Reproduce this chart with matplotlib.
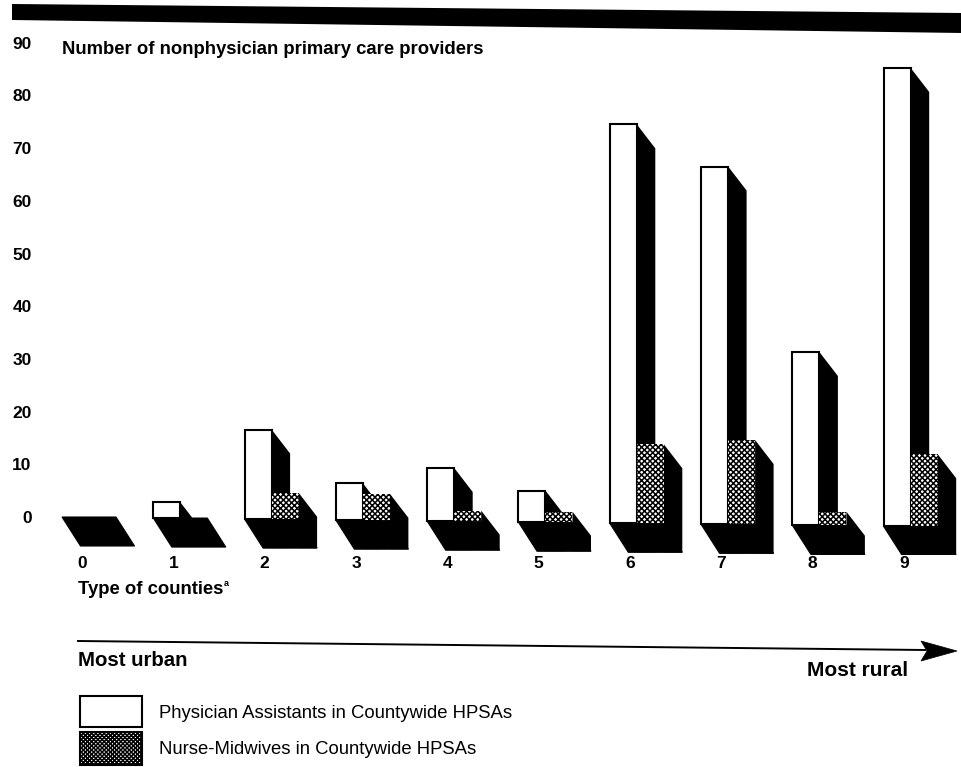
import numpy as np
import matplotlib
matplotlib.use("Agg")
import matplotlib.pyplot as plt
from matplotlib.patches import Polygon, Rectangle
from matplotlib.transforms import Affine2D

plt.rcParams['font.family'] = ['Liberation Sans', 'DejaVu Sans']
plt.rcParams['hatch.linewidth'] = 1.1

# Data
county_types = [0, 1, 2, 3, 4, 5, 6, 7, 8, 9]
physician_assistants = [0, 3, 17, 7, 10.1, 6, 75.7, 67.9, 32.9, 87]
nurse_midwives = [0, 0, 5, 5, 2, 2, 15, 16, 2.6, 13.7]
y_ticks = [0, 10, 20, 30, 40, 50, 60, 70, 80, 90]

W, H = 962, 767
px_per_x = 91.3
px_per_y = 5.27

fig = plt.figure(figsize=(W/100, H/100), dpi=100)
ax = fig.add_axes([40/W, 1-555/H, (W-40)/W, 555/H])
ax.set_xlim((40-62)/px_per_x, (W-62)/px_per_x)
ax.set_ylim((517-555)/px_per_y, 517/px_per_y)
for s in ax.spines.values():
    s.set_visible(False)
ax.patch.set_alpha(0)

# Bar sizes in axis units
bar_w = 27/px_per_x
dx = 18.5/px_per_x
dy_top = 24/px_per_y
dy_floor = 29/px_per_y
drift = 1.05/px_per_y  # page is scanned slightly crooked

for i, (pa, nm) in enumerate(zip(physician_assistants, nurse_midwives)):
    x0 = county_types[i]
    b = -drift*i
    x1, x2 = x0+bar_w, x0+2*bar_w
    floor = b-dy_floor

    ax.add_patch(Polygon([(x0, b), (x2, b), (x2+dx, floor), (x0+dx, floor)], fc='black', ec='black', lw=0.8, zorder=2))
    if pa > 0:
        ax.add_patch(Polygon([(x1, b+pa), (x1+dx, b+pa-dy_top), (x1+dx, floor), (x1, floor)],
                             fc='black', ec='none', zorder=3))
        ax.add_patch(Rectangle((x0, b), bar_w, pa, fc='white', ec='black', lw=1.5, zorder=4))
    if nm > 0:
        ax.add_patch(Polygon([(x2, b+nm), (x2+dx, b+nm-dy_top), (x2+dx, floor), (x2, floor)],
                             fc='black', ec='none', zorder=5))
        ax.add_patch(Rectangle((x1, b), bar_w, nm, fc='white', ec='black', lw=0, hatch='xxxxxx', zorder=6))

ax.set_yticks(y_ticks)
ax.set_yticklabels(y_ticks, fontsize=12.5, fontweight='bold')
ax.set_xticks(np.array(county_types)+0.22)
ax.set_xticklabels(county_types, fontsize=12.5, fontweight='bold')
ax.tick_params(axis='y', length=0, pad=6)
ax.tick_params(axis='x', length=0, pad=1)

# Pixel coordinates for the annotations around the chart
page = Affine2D().scale(1/W, -1/H).translate(0, 1) + fig.transFigure

fig.add_artist(Polygon([(12, 4), (W, 13), (W, 33), (12, 20)], fc='black', ec='none', transform=page))

fig.text(62, 50, "Number of nonphysician primary care providers", transform=page,
         fontsize=13.3, fontweight='bold', va='center')
fig.text(78, 589, "Type of counties", transform=page, fontsize=13.3, fontweight='bold', va='center')
fig.text(224, 583, "a", transform=page, fontsize=6.5, fontweight='bold', va='center')
fig.text(78, 660, "Most urban", transform=page, fontsize=14.7, fontweight='bold', va='center')
fig.text(807, 670, "Most rural", transform=page, fontsize=15, fontweight='bold', va='center')

fig.add_artist(plt.Line2D([78, 925], [641, 650], color='black', lw=1.4, transform=page))
fig.add_artist(Polygon([(921, 641), (957, 651), (921, 661), (927, 651)], fc='black', ec='black', lw=0.5, transform=page))

fig.add_artist(Rectangle((80, 696), 62, 31, fc='white', ec='black', lw=1.5, transform=page))
fig.add_artist(Rectangle((80, 732), 62, 33, fc='white', ec='black', lw=1.5, hatch='xxxxxxxx', transform=page))
fig.text(159, 714, "Physician Assistants in Countywide HPSAs", transform=page, fontsize=13.3, va='center')
fig.text(159, 749, "Nurse-Midwives in Countywide HPSAs", transform=page, fontsize=13.3, va='center')

fig.savefig("out.png", dpi=100)
